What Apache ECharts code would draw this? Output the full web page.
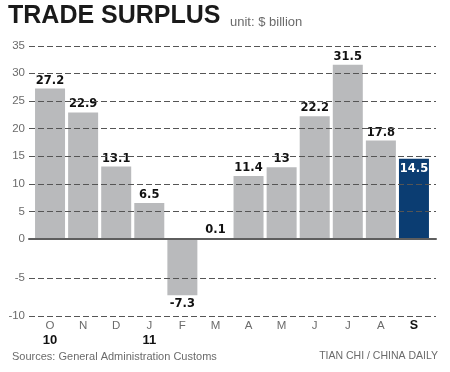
<!DOCTYPE html>
<html>
<head>
<meta charset="utf-8">
<script src="https://cdn.jsdelivr.net/npm/echarts@6/dist/echarts.min.js"></script>
<style>html,body{margin:0;padding:0;background:#fff;}#c{width:450px;height:372px;}</style>
</head>
<body>
<div id="c"></div>
<script>
const months = ['O','N','D','J','F','M','A','M','J','J','A','S'];
const yearLabels = ['10','','','11','','','','','','','',''];
const values = [27.2, 22.9, 13.1, 6.5, -7.3, 0.1, 11.4, 13, 22.2, 31.5, 17.8, 14.5];
const highlightIndex = 11;
const posTicks = { min: 0, max: 35, interval: 5 };
const negTicks = { min: -10, max: 0, interval: 5 };

const GRAY = '#b9babc', BLUE = '#0b3d72';
const GRID_L = 29, GRID_R = 14, BAR_L = 33.5, BAR_R = 19.5;
const TOP = 45.5, ZERO = 239, BOTTOM = 316;

function tickList(t) {
  const out = [];
  for (let v = t.min; v <= t.max; v += t.interval) if (v !== 0) out.push([0, v]);
  return out;
}

function item(v, i, keep) {
  if (!keep(v)) return '-';
  const hi = i === highlightIndex;
  const o = { value: v, itemStyle: { color: hi ? BLUE : GRAY } };
  if (hi) o.label = { position: 'insideTop', distance: 4, color: '#fff' };
  return o;
}

const labelStyle = {
  show: true, fontFamily: 'DejaVu Sans', fontWeight: 'bold', fontSize: 11.5, color: '#111',
  formatter: p => String(p.value)
};
const axLabel = { color: '#6b6b6b', fontFamily: 'Liberation Sans', fontSize: 11.5, margin: 4 };

function gridLines(xi, yi, ticks) {
  return {
    type: 'custom', xAxisIndex: xi, yAxisIndex: yi, z: 20, silent: true, clip: false,
    data: tickList(ticks),
    encode: { x: 0, y: 1 },
    renderItem: (params, api) => {
      const cs = params.coordSys;
      const y = Math.round(api.coord([0, api.value(1)])[1]) + 0.5;
      return {
        type: 'line', z2: 100,
        shape: { x1: cs.x, y1: y, x2: cs.x + cs.width, y2: y },
        style: { stroke: '#555', lineWidth: 1, lineDash: [6, 3], fill: null }
      };
    }
  };
}

const chart = echarts.init(document.getElementById('c'), null, { renderer: 'canvas' });
chart.setOption({
  animation: false,
  backgroundColor: '#fff',
  grid: [
    { left: GRID_L, right: GRID_R, top: TOP, height: ZERO - TOP },
    { left: GRID_L, right: GRID_R, top: ZERO, height: BOTTOM - ZERO },
    { left: BAR_L, right: BAR_R, top: TOP, height: ZERO - TOP },
    { left: BAR_L, right: BAR_R, top: ZERO, height: BOTTOM - ZERO }
  ],
  xAxis: [
    { gridIndex: 0, type: 'category', data: months, position: 'bottom', z: 30,
      axisLine: { show: true, lineStyle: { color: '#5e5e5e', width: 2 } },
      axisTick: { show: false }, axisLabel: { show: false }, splitLine: { show: false } },
    { gridIndex: 1, type: 'category', data: months, show: false },
    { gridIndex: 2, type: 'category', data: months, show: false },
    { gridIndex: 3, type: 'category', data: months, position: 'bottom',
      axisLine: { show: false }, axisTick: { show: false },
      axisLabel: {
        interval: 0, margin: 3,
        formatter: (v, i) => {
          const m = i === highlightIndex ? '{s|' + months[i] + '}' : '{m|' + months[i] + '}';
          return yearLabels[i] ? m + '\n{y|' + yearLabels[i] + '}' : m;
        },
        rich: {
          m: { color: '#6b6b6b', fontFamily: 'Liberation Sans', fontSize: 11.5, lineHeight: 14 },
          s: { color: '#111', fontFamily: 'Liberation Sans', fontWeight: 'bold', fontSize: 12.5, lineHeight: 14 },
          y: { color: '#111', fontFamily: 'Liberation Sans', fontWeight: 'bold', fontSize: 13, lineHeight: 15 }
        }
      } }
  ],
  yAxis: [
    { gridIndex: 0, type: 'value', min: posTicks.min, max: posTicks.max, interval: posTicks.interval,
      axisLine: { show: false }, axisTick: { show: false }, axisLabel: axLabel, splitLine: { show: false } },
    { gridIndex: 1, type: 'value', min: negTicks.min, max: negTicks.max, interval: negTicks.interval,
      axisLine: { show: false }, axisTick: { show: false },
      axisLabel: Object.assign({}, axLabel, { formatter: v => v === 0 ? '' : String(v) }), splitLine: { show: false } },
    { gridIndex: 2, type: 'value', min: posTicks.min, max: posTicks.max, show: false, splitLine: { show: false } },
    { gridIndex: 3, type: 'value', min: negTicks.min, max: negTicks.max, show: false, splitLine: { show: false } }
  ],
  series: [
    { type: 'bar', xAxisIndex: 2, yAxisIndex: 2, barWidth: 30, z: 2,
      data: values.map((v, i) => item(v, i, x => x >= 0)),
      label: Object.assign({ position: 'top', distance: 2 }, labelStyle) },
    { type: 'bar', xAxisIndex: 3, yAxisIndex: 3, barWidth: 30, z: 2,
      data: values.map((v, i) => item(v, i, x => x < 0)),
      label: Object.assign({ position: 'bottom', distance: 3 }, labelStyle) },
    gridLines(0, 0, posTicks),
    gridLines(1, 1, negTicks)
  ],
  graphic: [
    { type: 'text', left: 8, top: 4, style: { text: 'TRADE SURPLUS', font: 'bold 25px "Liberation Sans"', fill: '#1a1a1a' } },
    { type: 'text', left: 230, top: 16, style: { text: 'unit: $ billion', font: '13px "Liberation Sans"', fill: '#6b6b6b' } },
    { type: 'text', left: 12, top: 351, style: { text: 'Sources: General Administration Customs', font: '11px "Liberation Sans"', fill: '#6b6b6b' } },
    { type: 'text', right: 12, top: 351, style: { text: 'TIAN CHI / CHINA DAILY', font: '10.5px "Liberation Sans"', fill: '#6b6b6b' } }
  ]
});
</script>
</body>
</html>
